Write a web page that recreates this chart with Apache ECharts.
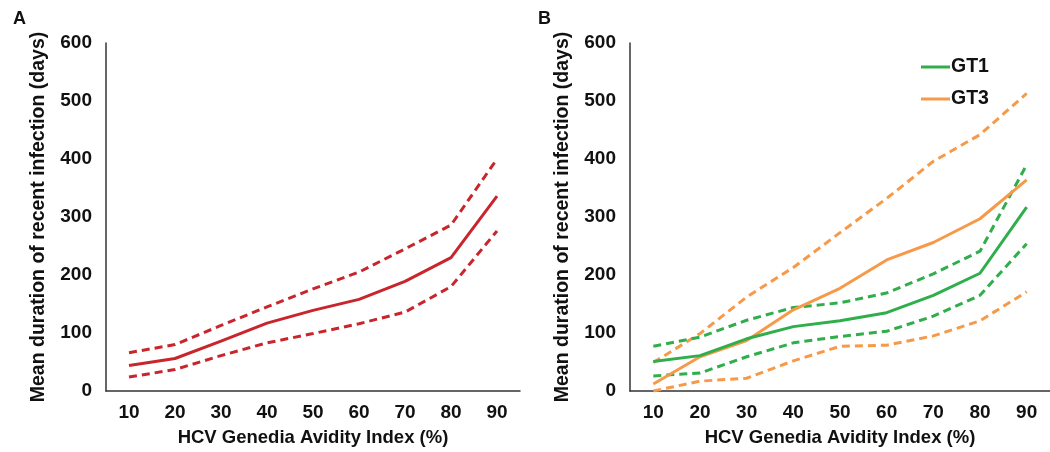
<!DOCTYPE html>
<html>
<head>
<meta charset="utf-8">
<style>
  html, body { margin: 0; padding: 0; background: #fff; }
  #main { width: 1050px; height: 452px; }
</style>
<script src="https://cdn.jsdelivr.net/npm/echarts@6/dist/echarts.min.js"></script>
</head>
<body>
<div id="main"></div>
<script>
// avidity index categories (%)
var categories = ['10', '20', '30', '40', '50', '60', '70', '80', '90'];

// panel A - all samples
var allMean  = [44, 56, 86, 117, 139, 158, 189, 230, 336];
var allUpper = [66, 80, 113, 145, 176, 205, 245, 286, 400];
var allLower = [24, 37, 61, 83, 99, 116, 136, 180, 276];

// panel B - by genotype
var gt1Mean  = [51, 61, 90, 111, 121, 135, 165, 203, 317];
var gt1Upper = [77, 93, 122, 144, 152, 169, 202, 241, 390];
var gt1Lower = [26, 31, 59, 83, 94, 103, 129, 165, 254];
var gt3Mean  = [12, 59, 87, 140, 177, 226, 256, 297, 364];
var gt3Upper = [49, 99, 162, 213, 273, 332, 396, 442, 513];
var gt3Lower = [0, 17, 22, 52, 77, 79, 95, 121, 171];

var red = '#c9252c';
var green = '#2fae4b';
var orange = '#f69a4a';
var font = 'Liberation Sans';

function line(name, data, color, dashed, idx) {
    return {
        name: name,
        type: 'line',
        data: data,
        xAxisIndex: idx,
        yAxisIndex: idx,
        symbol: 'none',
        lineStyle: {
            color: color,
            width: 3,
            type: dashed ? [8, 5] : 'solid'
        },
        itemStyle: { color: color },
        silent: true
    };
}

function xAxis(idx) {
    return {
        type: 'category',
        gridIndex: idx,
        data: categories,
        boundaryGap: true,
        name: 'HCV Genedia Avidity Index (%)',
        nameLocation: 'middle',
        nameGap: 37,
        nameTextStyle: { fontFamily: font, fontWeight: 'bold', fontSize: 18.5, color: '#111' },
        axisLine: { lineStyle: { color: '#333', width: 1.5 } },
        axisTick: { show: false },
        axisLabel: { fontFamily: font, fontWeight: 'bold', fontSize: 19, color: '#111', margin: 12 }
    };
}

function yAxis(idx) {
    return {
        type: 'value',
        gridIndex: idx,
        min: 0,
        max: 600,
        interval: 100,
        name: 'Mean duration of recent infection (days)',
        nameLocation: 'middle',
        nameGap: 57,
        nameTextStyle: { fontFamily: font, fontWeight: 'bold', fontSize: 19.5, color: '#111' },
        axisLine: { show: true, lineStyle: { color: '#333', width: 1.5 } },
        axisTick: { show: false },
        splitLine: { show: false },
        axisLabel: { fontFamily: font, fontWeight: 'bold', fontSize: 19, color: '#111', margin: 14 }
    };
}

var chart = echarts.init(document.getElementById('main'));
chart.setOption({
    animation: false,
    backgroundColor: '#fff',
    title: [
        { text: 'A', left: 8, top: 5, textStyle: { fontFamily: font, fontWeight: 'bold', fontSize: 18, color: '#111' } },
        { text: 'B', left: 533, top: 5, textStyle: { fontFamily: font, fontWeight: 'bold', fontSize: 18, color: '#111' } }
    ],
    legend: {
        data: ['GT1', 'GT3'],
        orient: 'vertical',
        left: 916,
        top: 52,
        icon: 'rect',
        itemWidth: 29,
        itemHeight: 3,
        itemGap: 12,
        textStyle: { fontFamily: font, fontWeight: 'bold', fontSize: 19.5, color: '#111', padding: [0, 0, 0, -4] }
    },
    grid: [
        { left: 106, right: 530, top: 43, bottom: 61 },
        { left: 630, right: 0, top: 43, bottom: 60 }
    ],
    xAxis: [xAxis(0), xAxis(1)],
    yAxis: [yAxis(0), yAxis(1)],
    series: [
        line('All upper', allUpper, red, true, 0),
        line('All lower', allLower, red, true, 0),
        line('All', allMean, red, false, 0),
        line('GT3 upper', gt3Upper, orange, true, 1),
        line('GT3 lower', gt3Lower, orange, true, 1),
        line('GT1 upper', gt1Upper, green, true, 1),
        line('GT1 lower', gt1Lower, green, true, 1),
        line('GT3', gt3Mean, orange, false, 1),
        line('GT1', gt1Mean, green, false, 1)
    ]
});
</script>
</body>
</html>
